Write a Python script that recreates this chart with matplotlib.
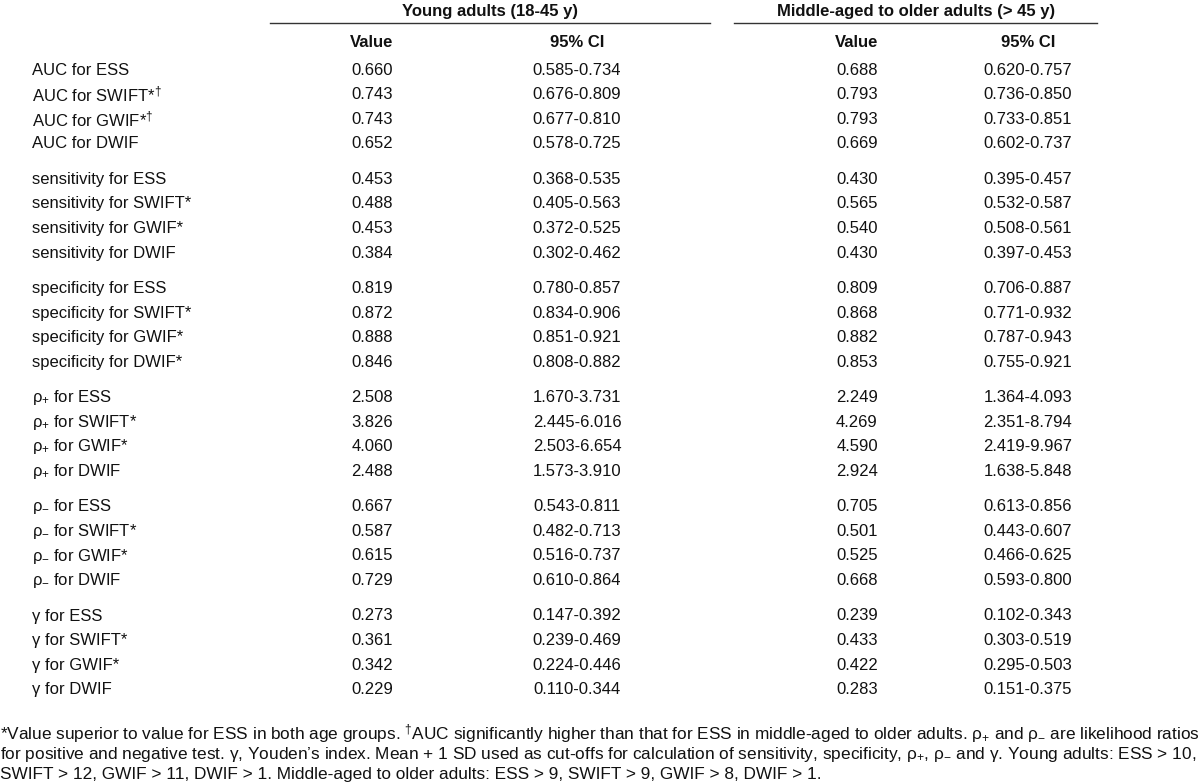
import matplotlib
matplotlib.use("Agg")
import matplotlib.pyplot as plt
from matplotlib import font_manager

names = {f.name for f in font_manager.fontManager.ttflist}
FAM = "Liberation Sans Narrow" if "Liberation Sans Narrow" in names else "Liberation Sans"
plt.rcParams['font.family'] = [FAM, 'DejaVu Sans']
plt.rcParams['mathtext.fontset'] = 'custom'
plt.rcParams['mathtext.rm'] = FAM
plt.rcParams['mathtext.it'] = FAM
plt.rcParams['mathtext.bf'] = FAM

group_headers = ["Young adults (18-45 y)", "Middle-aged to older adults (> 45 y)"]
col_headers = ["Value", "95% CI", "Value", "95% CI"]

row_labels = [
    ["AUC for ESS", "AUC for SWIFT*$^{†}$", "AUC for GWIF*$^{†}$", "AUC for DWIF"],
    ["sensitivity for ESS", "sensitivity for SWIFT*", "sensitivity for GWIF*", "sensitivity for DWIF"],
    ["specificity for ESS", "specificity for SWIFT*", "specificity for GWIF*", "specificity for DWIF*"],
    ["$\\rho_{+}$ for ESS", "$\\rho_{+}$ for SWIFT*", "$\\rho_{+}$ for GWIF*", "$\\rho_{+}$ for DWIF"],
    ["$\\rho_{-}$ for ESS", "$\\rho_{-}$ for SWIFT*", "$\\rho_{-}$ for GWIF*", "$\\rho_{-}$ for DWIF"],
    ["γ for ESS", "γ for SWIFT*", "γ for GWIF*", "γ for DWIF"],
]

young_value = [
    ["0.660", "0.743", "0.743", "0.652"],
    ["0.453", "0.488", "0.453", "0.384"],
    ["0.819", "0.872", "0.888", "0.846"],
    ["2.508", "3.826", "4.060", "2.488"],
    ["0.667", "0.587", "0.615", "0.729"],
    ["0.273", "0.361", "0.342", "0.229"],
]
young_ci = [
    ["0.585-0.734", "0.676-0.809", "0.677-0.810", "0.578-0.725"],
    ["0.368-0.535", "0.405-0.563", "0.372-0.525", "0.302-0.462"],
    ["0.780-0.857", "0.834-0.906", "0.851-0.921", "0.808-0.882"],
    ["1.670-3.731", "2.445-6.016", "2.503-6.654", "1.573-3.910"],
    ["0.543-0.811", "0.482-0.713", "0.516-0.737", "0.610-0.864"],
    ["0.147-0.392", "0.239-0.469", "0.224-0.446", "0.110-0.344"],
]
older_value = [
    ["0.688", "0.793", "0.793", "0.669"],
    ["0.430", "0.565", "0.540", "0.430"],
    ["0.809", "0.868", "0.882", "0.853"],
    ["2.249", "4.269", "4.590", "2.924"],
    ["0.705", "0.501", "0.525", "0.668"],
    ["0.239", "0.433", "0.422", "0.283"],
]
older_ci = [
    ["0.620-0.757", "0.736-0.850", "0.733-0.851", "0.602-0.737"],
    ["0.395-0.457", "0.532-0.587", "0.508-0.561", "0.397-0.453"],
    ["0.706-0.887", "0.771-0.932", "0.787-0.943", "0.755-0.921"],
    ["1.364-4.093", "2.351-8.794", "2.419-9.967", "1.638-5.848"],
    ["0.613-0.856", "0.443-0.607", "0.466-0.625", "0.593-0.800"],
    ["0.102-0.343", "0.303-0.519", "0.295-0.503", "0.151-0.375"],
]

footnote = [
    "*Value superior to value for ESS in both age groups. $^{†}$AUC significantly higher than that for ESS in middle-aged to older adults. $\\rho_{+}$ and $\\rho_{-}$ are likelihood ratios",
    "for positive and negative test. γ, Youden’s index. Mean + 1 SD used as cut-offs for calculation of sensitivity, specificity, $\\rho_{+}$, $\\rho_{-}$ and γ. Young adults: ESS > 10,",
    "SWIFT > 12, GWIF > 11, DWIF > 1. Middle-aged to older adults: ESS > 9, SWIFT > 9, GWIF > 8, DWIF > 1.",
]

W, H = 1200, 784
fig = plt.figure(figsize=(12, 7.84), dpi=100)
ax = fig.add_axes([0, 0, 1, 1])
ax.set_xlim(0, W)
ax.set_ylim(H, 0)
ax.axis('off')

FS = 12
FS_NOTE = 12.4
TXT = '#111111'

# group headers and rules
ax.text(490, 11, group_headers[0], ha='center', va='center', fontsize=FS, fontweight='bold', color=TXT)
ax.text(916, 11, group_headers[1], ha='center', va='center', fontsize=FS, fontweight='bold', color=TXT)
ax.plot([270, 710], [23, 23], color='#333333', lw=1.0)
ax.plot([734, 1097], [23, 23], color='#333333', lw=1.0)

col_x = [372, 577, 857, 1028]
for x, h in zip(col_x, col_headers):
    ax.text(x, 42, h, ha='center', va='center', fontsize=FS, fontweight='bold', color=TXT)

y0 = 70
row_step = 24.6
group_step = 109.2
for g in range(len(row_labels)):
    for r in range(4):
        y = y0 + g * group_step + r * row_step
        ax.text(32, y, row_labels[g][r], ha='left', va='center', fontsize=FS, color=TXT)
        for x, arr in zip(col_x, [young_value, young_ci, older_value, older_ci]):
            ax.text(x, y, arr[g][r], ha='center', va='center', fontsize=FS, color=TXT)

for i, line in enumerate(footnote):
    ax.text(0, 734 + i * 20.3, line, ha='left', va='center', fontsize=FS_NOTE, color=TXT)

fig.savefig("out.png", dpi=100, facecolor='white')
